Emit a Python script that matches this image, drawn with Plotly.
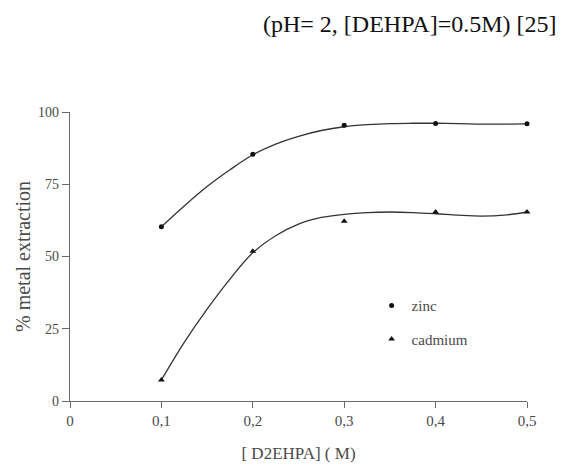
import plotly.graph_objects as go

# Measured points
conc = [0.1, 0.2, 0.3, 0.4, 0.5]
zinc = [60.3, 85.4, 95.4, 96.0, 95.9]
cadmium = [7.3, 51.8, 62.2, 65.4, 65.4]

# Fitted curves
curve_x = [0.1, 0.125, 0.15, 0.175, 0.2, 0.225, 0.25, 0.275, 0.3, 0.325, 0.35,
           0.375, 0.4, 0.425, 0.45, 0.475, 0.5]
zinc_curve = [60.3, 67.5, 74.2, 80.0, 85.2, 88.9, 91.6, 93.6, 94.9, 95.6, 96.0,
              96.1, 96.1, 96.0, 95.8, 95.8, 95.9]
cadmium_curve = [7.3, 20.3, 31.8, 42.2, 51.3, 57.2, 61.2, 63.5, 64.6, 65.2, 65.4,
                 65.2, 64.8, 64.3, 64.0, 64.3, 65.4]

x_ticks = [0, 0.1, 0.2, 0.3, 0.4, 0.5]
x_tick_text = ["0", "0,1", "0,2", "0,3", "0,4", "0,5"]
y_ticks = [0, 25, 50, 75, 100]
y_tick_text = ["0", "25", "50", "75", "100"]

serif = "Liberation Serif, Times New Roman, DejaVu Serif, serif"
grey = "#4a4a4a"
axis_grey = "#6a6a6a"

fig = go.Figure()
fig.add_trace(go.Scatter(x=curve_x, y=zinc_curve, mode="lines",
                         line=dict(color="#333333", width=1.3, shape="spline", smoothing=1.0),
                         showlegend=False, hoverinfo="skip"))
fig.add_trace(go.Scatter(x=curve_x, y=cadmium_curve, mode="lines",
                         line=dict(color="#333333", width=1.3, shape="spline", smoothing=1.0),
                         showlegend=False, hoverinfo="skip"))
fig.add_trace(go.Scatter(x=conc, y=zinc, mode="markers", name="zinc", legendgroup="z",
                         marker=dict(symbol="circle", size=5, color="#111111")))
fig.add_trace(go.Scatter(x=conc, y=cadmium, mode="markers", name="cadmium", legendgroup="c",
                         marker=dict(symbol="triangle-up", size=6, color="#111111")))

fig.update_traces(cliponaxis=False)

fig.update_layout(
    width=573, height=468,
    margin=dict(l=70, r=46, t=112, b=67, autoexpand=False),
    paper_bgcolor="white", plot_bgcolor="white",
    font=dict(family=serif, color=grey, size=14),
    showlegend=True,
    legend=dict(x=0.66, y=0.387, xanchor="left", yanchor="top", bgcolor="rgba(0,0,0,0)",
                font=dict(family=serif, size=15, color=grey), itemwidth=30, tracegroupgap=11),
    xaxis=dict(range=[0, 0.5], tickvals=x_ticks, ticktext=x_tick_text, showgrid=False, zeroline=False,
               showline=True, linecolor=axis_grey, linewidth=1.3, ticks="outside", ticklen=6,
               tickcolor=axis_grey, tickfont=dict(size=15), automargin=False,
               title=dict(text="[ D2EHPA] ( M)", font=dict(family=serif, size=17, color=grey), standoff=18)),
    yaxis=dict(range=[0, 100], tickvals=y_ticks, ticktext=y_tick_text, showgrid=False, zeroline=False,
               showline=True, linecolor=axis_grey, linewidth=1.3, ticks="outside", ticklen=7,
               tickcolor=axis_grey, tickfont=dict(size=14), automargin=False,
               title=dict(text="% metal extraction", font=dict(family=serif, size=20, color=grey), standoff=2)),
)

fig.add_annotation(text="(pH= 2, [DEHPA]=0.5M) [25]", xref="paper", yref="paper", x=1.07, y=1.0,
                   xanchor="right", yanchor="middle", yshift=88, showarrow=False,
                   font=dict(family=serif, size=24, color="#111111"))

fig.write_html("out.html")
